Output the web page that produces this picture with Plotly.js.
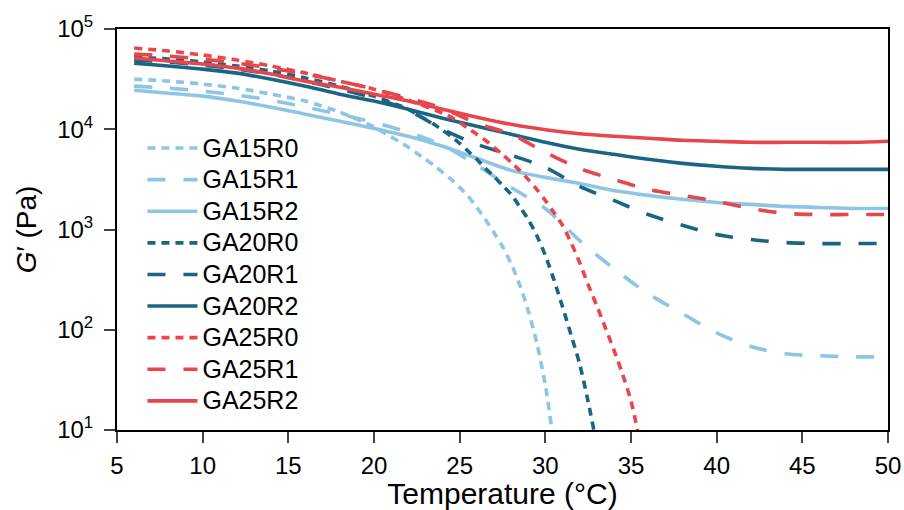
<!DOCTYPE html>
<html>
<head>
<meta charset="utf-8">
<script src="https://cdn.plot.ly/plotly-3.0.1.min.js"></script>
<style>html,body{margin:0;padding:0;background:#fff;}#chart{width:904px;height:510px;}</style>
</head>
<body>
<div id="chart"></div>
<script>
// Temperature grids (°C)
const tempFull = [6,8,10,12,14,16,18,20,22,24,26,28,30,32,34,36,38,40,42,44,46,48,50];
const tempGA15R0 = [6,8,10,12,14,16,18,20,22,22.5,23,23.5,24,24.5,25,25.5,26,26.5,27,27.5,28,28.5,29,29.5,30,30.5];
const tempGA20R0 = [6,8,10,12,14,16,18,20,22,22.5,23,23.5,24,24.5,25,25.5,26,26.5,27,27.5,28,28.5,29,29.5,30,30.5,31,31.5,32,32.5,33];
const tempGA25R0 = [6,8,10,12,14,16,18,20,22,24,24.5,25,25.5,26,26.5,27,27.5,28,28.5,29,29.5,30,30.5,31,31.5,32,32.5,33,33.5,34,34.5,35,35.5];

// Storage modulus G' (Pa)
const GA15R0 = [31600,30200,28200,25700,22400,19100,14800,10500,6610,5750,5010,4370,3720,3160,2630,2140,1660,1260,933,676,457,282,155,74.1,28.2,7.1];
const GA15R1 = [26900,25700,24000,21900,19500,16600,14100,11700,9330,6920,4370,2630,1620,776,407,229,145,93,68,57.5,55,53.7,53.7];
const GA15R2 = [24500,22900,21400,19100,16600,14100,12000,10200,8510,6760,5130,3890,3310,2880,2450,2190,2000,1860,1780,1700,1660,1620,1620];
const GA20R0 = [52500,50100,46800,42700,38000,32400,26900,21400,15800,14100,12600,11200,9770,8510,7240,6030,5010,4070,3390,2750,2240,1700,1260,871,550,316,170,89,45.7,19.1,7.1];
const GA20R1 = [49000,46800,43700,39800,35500,30200,25100,20400,15500,10000,7080,5500,4170,2690,1950,1410,1100,891,794,741,724,724,724];
const GA20R2 = [45700,42700,39800,36300,31600,26900,22400,19100,15800,12900,10700,8910,7410,6310,5620,5010,4570,4270,4070,3980,3980,3980,3980];
const GA25R0 = [64600,60300,55000,49000,42700,36300,30200,25100,19500,14500,13200,11700,10200,8910,7760,6610,5620,4680,3890,3160,2510,1950,1480,1100,741,468,282,174,105,63.1,36.3,19.5,7.9];
const GA25R1 = [56200,53700,50100,45700,40700,35500,30200,25100,20400,16200,11500,8910,5890,4070,3160,2510,2190,1910,1620,1450,1410,1410,1410];
const GA25R2 = [51300,47900,44700,40700,35500,30200,26300,22400,19100,15800,13200,11200,9890,9020,8510,8130,7760,7590,7410,7410,7410,7410,7590];

const seriesNames = ['GA15R0','GA15R1','GA15R2','GA20R0','GA20R1','GA20R2','GA25R0','GA25R1','GA25R2'];
const yTickVals = [10,100,1000,10000,100000];
const yTickText = ['10<sup>1</sup>','10<sup>2</sup>','10<sup>3</sup>','10<sup>4</sup>','10<sup>5</sup>'];
const xTickVals = [5,10,15,20,25,30,35,40,45,50];

const cLight = '#8ec5e5', cDark = '#1a6682', cRed = '#e8464b';
const dotDash = '8px,6px', longDash = '18px,18px';

const defs = [
  [tempGA15R0, GA15R0, cLight, dotDash],
  [tempFull,   GA15R1, cLight, longDash],
  [tempFull,   GA15R2, cLight, 'solid'],
  [tempGA20R0, GA20R0, cDark,  dotDash],
  [tempFull,   GA20R1, cDark,  longDash],
  [tempFull,   GA20R2, cDark,  'solid'],
  [tempGA25R0, GA25R0, cRed,   dotDash],
  [tempFull,   GA25R1, cRed,   longDash],
  [tempFull,   GA25R2, cRed,   'solid']
];

const traces = defs.map((d, i) => ({
  x: d[0], y: d[1], type: 'scatter', mode: 'lines',
  name: '<span style="font-size:25px">' + seriesNames[i] + '</span>',
  line: {color: d[2], width: 3.6, dash: d[3], shape: 'spline', smoothing: 0.8}
}));

const font = 'Liberation Sans, Arial, sans-serif';
const layout = {
  width: 904, height: 510,
  margin: {l: 117, r: 16, t: 29, b: 80},
  paper_bgcolor: '#fff', plot_bgcolor: '#fff',
  font: {family: font, color: '#000', size: 24},
  showlegend: true,
  legend: {x: 0.033, y: 0.755, xanchor: 'left', yanchor: 'top', bgcolor: 'rgba(0,0,0,0)',
           font: {family: font, size: 22, color: '#000'}, itemwidth: 50, tracegroupgap: 0},
  xaxis: {
    range: [5, 50], tickvals: xTickVals, ticks: 'outside', ticklen: 11, tickwidth: 2,
    showline: true, linewidth: 2, linecolor: '#000', mirror: true, showgrid: false, zeroline: false,
    tickfont: {size: 24}, ticklabelstandoff: 2,
    title: {text: 'Temperature (°C)', font: {size: 30}, standoff: 4}
  },
  yaxis: {
    type: 'log', range: [1, 5], tickvals: yTickVals, ticktext: yTickText, ticks: 'outside', ticklen: 11, tickwidth: 2,
    showline: true, linewidth: 2, linecolor: '#000', mirror: true, showgrid: false, zeroline: false,
    tickfont: {size: 24}, ticklabelstandoff: 6,
    title: {text: '<i>G</i>′ (Pa)', font: {size: 28}, standoff: 12}
  }
};

Plotly.newPlot('chart', traces, layout, {displayModeBar: false, staticPlot: true});
</script>
</body>
</html>
